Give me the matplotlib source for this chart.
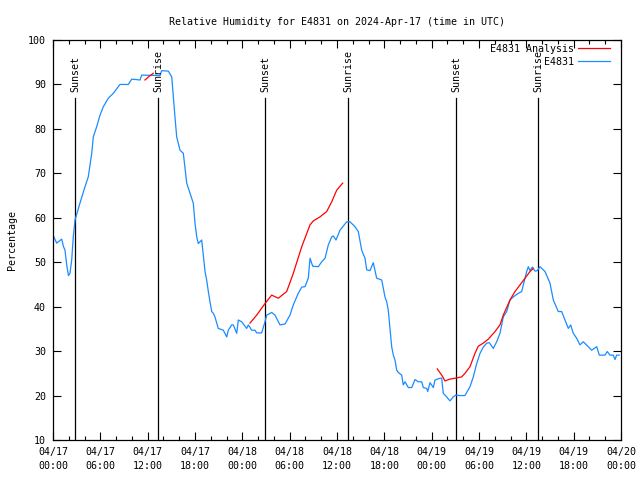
import numpy as np
import matplotlib
matplotlib.use("Agg")
import matplotlib.pyplot as plt

# hours since 04/17 00:00 UTC, relative humidity (%)
obs_hours = [0.0, 0.47, 1.10, 1.33, 1.52, 1.77, 1.96, 2.15, 2.37, 2.57, 2.79, 3.42, 4.06, 4.47,
             4.91, 5.11, 5.54, 5.96, 6.38, 7.01, 7.64, 8.49, 9.54, 9.98, 11.03, 11.24, 13.56,
             13.78, 14.62, 15.05, 15.25, 15.46, 15.68, 16.10, 16.52, 16.95, 17.37, 17.78, 18.00,
             18.22, 18.42, 18.85, 19.05, 19.27, 19.48, 19.69, 19.90, 20.12, 20.32, 20.53, 20.75,
             20.95, 21.59, 22.02, 22.22, 22.65, 22.85, 23.29, 23.49, 23.92, 24.55, 24.76, 25.19,
             25.61, 25.82, 26.45, 26.87, 27.09, 27.72, 28.14, 28.77, 29.41, 30.04, 30.46, 31.09,
             31.53, 31.94, 32.36, 32.58, 32.92, 33.63, 34.06, 34.48, 34.90, 35.33, 35.53, 35.87,
             36.38, 37.23, 37.65, 38.28, 38.70, 39.13, 39.55, 39.76, 40.18, 40.60, 41.03, 41.67,
             42.08, 42.30, 42.50, 42.72, 42.93, 43.14, 43.35, 43.57, 43.77, 44.20, 44.40, 44.62,
             45.04, 45.47, 45.89, 46.31, 46.74, 46.94, 47.37, 47.50, 47.79, 48.21, 48.42, 49.06,
             49.27, 49.47, 49.90, 50.32, 50.74, 51.05, 51.59, 52.22, 52.86, 53.28, 53.71, 54.13,
             54.54, 54.98, 55.31, 55.81, 56.24, 56.66, 57.08, 57.51, 57.93, 58.35, 58.98, 59.41,
             59.83, 60.04, 60.25, 60.46, 60.76, 61.10, 61.39, 61.73, 62.37, 63.00, 63.42, 64.05,
             64.48, 64.90, 65.32, 65.62, 65.95, 66.38, 66.80, 67.22, 67.85, 68.28, 68.92, 69.25,
             69.97, 70.26, 70.60, 71.02, 71.24, 71.45, 71.78]
obs_rh = [56.1, 54.3, 55.2, 53.5, 52.7, 49.0, 47.0, 47.5, 50.5, 55.7, 59.5, 63.3, 67.0, 69.2,
          74.5, 78.2, 80.5, 83.1, 85.0, 86.9, 88.0, 90.0, 90.0, 91.2, 91.0, 92.1, 92.0,
          93.1, 93.0, 91.7, 87.2, 82.7, 78.2, 75.2, 74.5, 67.8, 65.5, 63.3, 58.8,
          55.7, 54.2, 55.0, 51.6, 47.9, 46.0, 43.4, 41.1, 38.9, 38.5, 37.7, 36.3,
          35.1, 34.7, 33.2, 34.7, 35.9, 35.9, 34.0, 37.0, 36.6, 35.1, 35.9, 34.7,
          34.7, 34.1, 34.1, 36.6, 38.1, 38.7, 38.1, 35.9, 36.1, 38.1, 40.4, 43.0,
          44.4, 44.5, 46.4, 50.9, 49.1, 49.0, 50.1, 50.9, 53.9, 55.7, 55.9, 55.0,
          57.2, 59.1, 59.1, 58.0, 56.9, 52.7, 50.9, 48.3, 48.1, 49.9, 46.4, 46.0,
          42.2, 41.1, 39.2, 35.1, 31.0, 29.1, 28.0, 25.7, 25.2, 24.6, 22.4, 23.1,
          21.8, 21.8, 23.6, 23.1, 23.1, 21.8, 21.6, 20.9, 22.9, 21.8, 23.5, 23.9,
          23.9, 20.5, 19.7, 18.8, 19.7, 20.1, 20.0, 20.0, 22.0, 24.2, 27.2, 29.5,
          30.9, 31.8, 31.9, 30.6, 32.1, 34.0, 37.7, 38.9, 41.5, 42.2, 43.0, 43.4,
          46.4, 47.9, 49.0, 48.1, 48.9, 48.0, 48.1, 49.0, 47.9, 45.3, 41.5, 38.9,
          38.9, 37.0, 35.1, 35.9, 34.0, 32.9, 31.4, 32.1, 31.0, 30.2, 31.0, 29.1,
          29.1, 29.9, 29.1, 29.1, 28.1, 29.1, 29.1]

# analysis series, gaps as nan
ana_hours = [11.66, 12.17, 12.71, np.nan,
             24.97, 25.82, 26.87, 27.72, 28.56, 29.62, 30.46, 31.53, 32.58, 33.00, 33.84,
             34.69, 35.33, 35.96, 36.72, np.nan,
             48.71, 49.27, 49.69, 50.32, 50.96, 51.81, 52.22, 52.86, 53.49, 53.91, 54.54,
             55.18, 56.03, 56.66, 57.08, 57.93, 58.56, 59.20, 59.83, 60.46, 60.88]
ana_rh = [91.0, 91.8, 92.5, np.nan,
          36.3, 38.1, 40.7, 42.6, 41.9, 43.4, 47.5, 53.5, 58.4, 59.3, 60.2,
          61.4, 63.6, 66.2, 67.8, np.nan,
          26.0, 24.6, 23.3, 23.7, 23.9, 24.2, 25.0, 26.5, 29.5, 31.1, 31.8,
          32.7, 34.4, 35.9, 38.1, 41.5, 43.4, 44.9, 46.4, 47.9, 48.6]

sun_hours = [2.79, 13.31, 26.87, 37.39, 51.08, 61.48]
sun_labels = ["Sunset", "Sunrise", "Sunset", "Sunrise", "Sunset", "Sunrise"]

tick_hours = list(range(0, 73, 6))
tick_labels = ["04/17\n00:00", "04/17\n06:00", "04/17\n12:00", "04/17\n18:00",
               "04/18\n00:00", "04/18\n06:00", "04/18\n12:00", "04/18\n18:00",
               "04/19\n00:00", "04/19\n06:00", "04/19\n12:00", "04/19\n18:00",
               "04/20\n00:00"]

plt.rcParams['font.family'] = ['DejaVu Sans Mono']
fs = 7.2

fig = plt.figure(figsize=(6.4, 4.8), dpi=100)
ax = fig.add_axes([53/640, 40/480, 568/640, 400/480])

for h, lab in zip(sun_hours, sun_labels):
    ax.plot([h, h], [10, 86.9], color='black', lw=0.9, zorder=1)
    ax.text(h, 88.3, lab, rotation=90, ha='center', va='bottom', fontsize=fs)

ax.plot(ana_hours, ana_rh, color='#ff0000', lw=0.9, label='E4831 Analysis', zorder=3)
ax.plot(obs_hours, obs_rh, color='#1a8cff', lw=0.9, label='E4831', zorder=2)

ax.set_xlim(0, 72)
ax.set_ylim(10, 100)
ax.set_xticks(tick_hours)
ax.set_xticklabels(tick_labels, fontsize=fs, linespacing=1.5)
ax.set_xticks(range(0, 73, 2), minor=True)
ax.set_yticks(range(10, 101, 10))
ax.tick_params(axis='y', labelsize=fs)
ax.tick_params(which='both', direction='in', top=True, right=True, width=0.8)
ax.tick_params(which='major', length=6, pad=5)
ax.tick_params(which='minor', length=3)
for s in ax.spines.values():
    s.set_linewidth(0.9)

ax.set_title("Relative Humidity for E4831 on 2024-Apr-17 (time in UTC)", fontsize=fs, pad=11)
ax.set_ylabel("Percentage", fontsize=fs, labelpad=8)

ax.legend(loc='upper right', bbox_to_anchor=(0.981, 0.99), markerfirst=False, frameon=False,
          fontsize=fs, handlelength=3.2, handletextpad=0.4, labelspacing=0.3,
          borderpad=0, borderaxespad=0)

fig.savefig("out.png", dpi=100)
